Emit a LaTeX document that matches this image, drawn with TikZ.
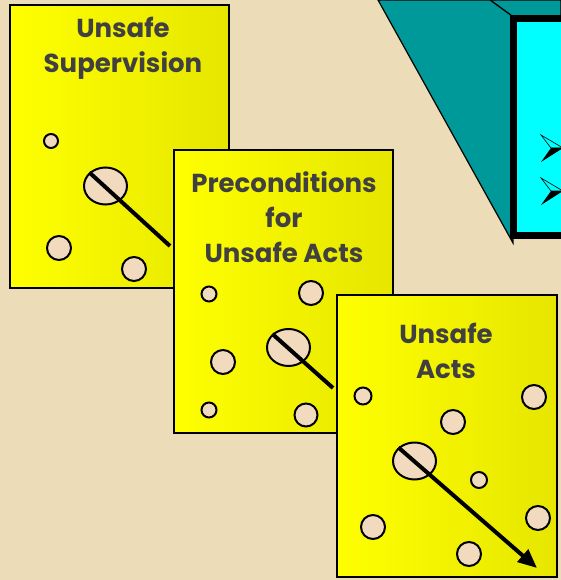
\documentclass[tikz,border=0pt]{standalone}
\usepackage{fontspec}
\usepackage{tikz}
\usetikzlibrary{arrows.meta,shapes.geometric}
\newfontfamily\cardfont{Poppins}
\definecolor{parchment}{RGB}{236,220,184}
\definecolor{cardyellow}{RGB}{255,255,0}
\definecolor{cardshade}{RGB}{230,230,0}
\definecolor{holefill}{RGB}{242,218,190}
\definecolor{inktext}{RGB}{64,64,64}
\definecolor{slabteal}{RGB}{0,153,153}
\definecolor{slabcyan}{RGB}{0,255,255}

\begin{document}
\begin{tikzpicture}[x=1pt,y=-1pt]
\tikzset{card/.style = {draw, line width=2.6pt, left color=cardyellow, right color=cardshade,
  minimum width=219pt, minimum height=283pt, inner sep=0pt}}
\tikzset{title/.style = {text=inktext, align=center, font=\cardfont\bfseries\fontsize{26}{35}\selectfont}}
\tikzset{hole/.style = {shape=circle, draw, line width=2pt, fill=holefill, inner sep=0pt}}
\tikzset{lens/.style = {shape=ellipse, draw, line width=2pt, fill=holefill, inner sep=0pt,
  minimum width=43pt, minimum height=37pt}}
\tikzset{needle/.style = {line width=4pt}}
\clip (0,0) rectangle (561,580);
\fill[parchment] (0,0) rectangle (561,580);

% slab in the corner
\coordinate (s1) at (378,0);
\coordinate (s2) at (490,0);
\coordinate (s3) at (512,16);
\coordinate (s4) at (513,243);
\coordinate (s5) at (561,0);
\coordinate (s6) at (561,16);
\draw[fill=slabteal, line width=1.2pt] (s2) -- (s5) -- (s6) -- (s3) -- cycle;
\draw[fill=slabteal, line width=1.2pt] (s1) -- (s2) -- (s3) -- (s4) -- cycle;
\node[draw, line width=7pt, fill=slabcyan, minimum width=80pt, minimum height=217pt,
  inner sep=0pt] (box) at (553.5,126.75) {};
\foreach \y [count=\i] in {148,191} {
  \coordinate (b\i) at (541,\y-13);
  \coordinate (m\i) at (551,\y);
  \coordinate (t\i) at (563,\y);
  \coordinate (c\i) at (541,\y+14);
  \draw[line width=0.6pt] (b\i) -- (t\i) -- (m\i) -- cycle;
  \fill (m\i) -- (t\i) -- (c\i) -- cycle;
}

% first card
\node[card] (p1) at (119.5,146.5) {};
\node[title] (t1) at (123,48) {Unsafe\\Supervision};
\node[hole, minimum size=14pt] (h11) at (51,141) {};
\node[hole, minimum size=24pt] (h12) at (59,248) {};
\node[hole, minimum size=24pt] (h13) at (134,269) {};
\node[lens] (e1) at (105.5,186) {};
\coordinate (n1) at (170,246);
\draw[needle] (e1.140) -- (n1);

% second card
\node[card] (p2) at (283.5,291.5) {};
\node[title] (t2) at (284,217) {Preconditions\\for\\ Unsafe Acts};
\node[hole, minimum size=15pt] (h21) at (209,294) {};
\node[hole, minimum size=24pt] (h22) at (311,293) {};
\node[hole, minimum size=24pt] (h23) at (223,362) {};
\node[hole, minimum size=15pt] (h24) at (209,410) {};
\node[hole, minimum size=23pt] (h25) at (306,415) {};
\node[lens] (e2) at (288.5,347.5) {};
\coordinate (n2) at (333,388);
\draw[needle] (e2.140) -- (n2);

% third card
\node[card, minimum width=220pt, minimum height=282pt] (p3) at (447,436) {};
\node[title] (t3) at (446,350.5) {Unsafe\\Acts};
\node[hole, minimum size=17pt] (h31) at (363,396) {};
\node[hole, minimum size=24pt] (h32) at (534,397) {};
\node[hole, minimum size=24pt] (h33) at (453,422) {};
\node[hole, minimum size=16pt] (h34) at (479,480) {};
\node[hole, minimum size=24pt] (h35) at (373,527) {};
\node[hole, minimum size=24pt] (h36) at (538,518) {};
\node[hole, minimum size=24pt] (h37) at (469,554) {};
\node[lens] (e3) at (414.5,461) {};
\coordinate (n3) at (537,568);
\draw[needle, -{Triangle[length=19pt,width=16pt]}] (e3.140) -- (n3);
\end{tikzpicture}
\end{document}
